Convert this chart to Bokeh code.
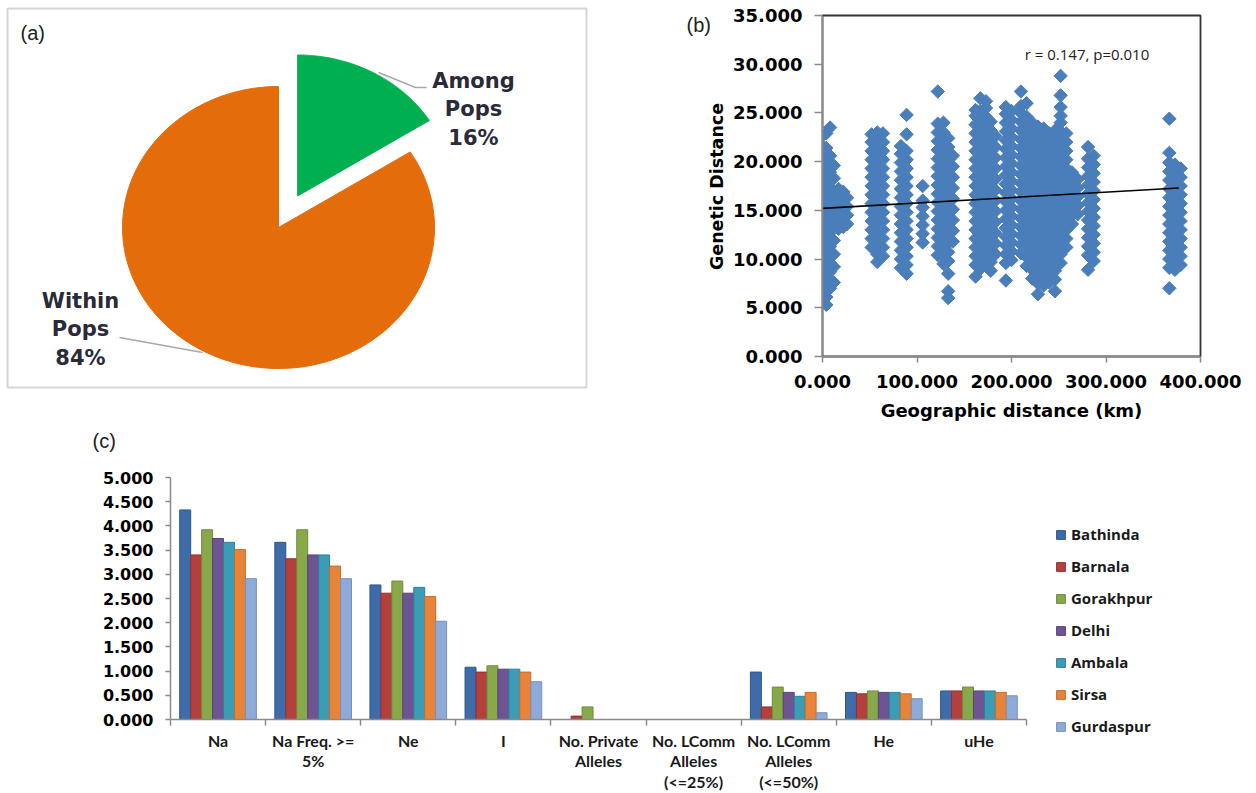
import numpy as np
from bokeh.plotting import figure
from bokeh.models import (Range1d, Legend, LegendItem, FixedTicker,
                          NumeralTickFormatter, ColumnDataSource)
from bokeh.layouts import column, row
from bokeh.embed import file_html
from bokeh.resources import INLINE
from bokeh.core.properties import value

# ---------------- data ----------------
# (a) AMOVA partition of variation
amova_labels = ["Among Pops", "Within Pops"]
amova_pct = [16, 84]
amova_colors = ["#00b050", "#e46c0a"]
amova_explode = [0.255, 0.0]

# (b) Mantel test: geographic distance (km) of population pairs and the
# pairwise genetic distances at each distance
pair_km = [0, 4, 8, 12, 17, 22, 26,
           52, 58, 64,
           83, 89,
           106,
           122, 128, 133, 138,
           162, 167, 173, 178, 183,
           194, 200,
           210, 216, 222, 228, 234, 240, 246, 252, 258, 264, 270,
           281, 287,
           367, 373, 379]
pair_gd = [
    [5.6, 6.3, 7.2, 8.0, 8.9, 9.7, 10.6, 11.4, 12.3, 13.1, 14.0, 14.8, 15.7, 16.5, 17.4, 18.2, 19.1, 19.9, 20.8, 21.6, 22.7],
    [5.3, 6.1, 6.9, 7.8, 8.6, 9.5, 10.3, 11.2, 12.0, 12.9, 13.7, 14.6, 15.4, 16.3, 17.1, 18.0, 18.8, 19.7, 20.5, 21.4, 22.9],
    [7.0, 7.9, 8.7, 9.6, 10.4, 11.3, 12.1, 13.0, 13.8, 14.7, 15.5, 16.4, 17.2, 18.1, 18.9, 19.8, 20.6, 23.5],
    [7.6, 9.2, 10.5, 11.9, 13.1, 14.4, 15.8, 17.0, 18.3, 19.6],
    [13.1, 14.0, 14.9, 15.8, 16.7, 17.2],
    [13.3, 14.2, 15.1, 16.0, 16.9],
    [13.6, 14.5, 15.4, 16.3],
    [11.2, 12.1, 13.0, 13.9, 14.8, 15.7, 16.6, 17.5, 18.4, 19.3, 20.2, 21.1, 22.0, 22.8],
    [9.7, 10.5, 11.4, 12.3, 13.2, 14.1, 15.0, 15.9, 16.8, 17.7, 18.6, 19.5, 20.4, 21.3, 22.2, 23.0],
    [10.3, 11.2, 12.1, 13.0, 13.9, 14.8, 15.7, 16.6, 17.5, 18.4, 19.3, 20.2, 21.1, 22.0, 22.9],
    [9.1, 10.0, 10.9, 11.8, 12.7, 13.6, 14.5, 15.4, 16.3, 17.2, 18.1, 19.0, 19.9, 20.8, 21.6],
    [8.5, 9.4, 10.3, 11.2, 12.1, 13.0, 13.9, 14.8, 15.7, 16.6, 17.5, 18.4, 19.3, 20.2, 21.1, 22.8, 24.8],
    [11.7, 12.6, 13.5, 14.4, 15.3, 16.0, 17.5],
    [10.4, 11.3, 12.2, 13.1, 14.0, 14.9, 15.8, 16.7, 17.6, 18.5, 19.4, 20.3, 21.2, 22.1, 23.0, 23.9, 27.2],
    [9.5, 10.4, 11.3, 12.2, 13.1, 14.0, 14.9, 15.8, 16.7, 17.6, 18.5, 19.4, 20.3, 21.2, 22.1, 23.0, 24.0],
    [6.0, 6.7, 8.5, 9.8, 10.7, 11.6, 12.5, 13.4, 14.3, 15.2, 16.1, 17.0, 17.9, 18.8, 19.7, 20.6, 21.5, 22.4],
    [11.8, 12.9, 14.0, 15.1, 16.2, 17.3, 18.4, 19.5, 20.6],
    [8.2, 9.4, 10.3, 11.2, 12.1, 13.0, 13.9, 14.8, 15.7, 16.6, 17.5, 18.4, 19.3, 20.2, 21.1, 22.0, 22.9, 23.8, 24.7, 25.3],
    [9.0, 9.9, 10.8, 11.7, 12.6, 13.5, 14.4, 15.3, 16.2, 17.1, 18.0, 18.9, 19.8, 20.7, 21.6, 22.5, 23.4, 24.3, 25.2, 26.5],
    [9.3, 10.2, 11.1, 12.0, 12.9, 13.8, 14.7, 15.6, 16.5, 17.4, 18.3, 19.2, 20.1, 21.0, 21.9, 22.8, 23.7, 24.6, 25.5, 26.2],
    [8.8, 9.7, 10.6, 11.5, 12.4, 13.3, 14.2, 15.1, 16.0, 16.9, 17.8, 18.7, 19.6, 20.5, 21.4, 22.3, 23.2, 24.1],
    [10.5, 11.6, 12.7, 13.8, 14.9, 16.0, 17.1, 18.2, 19.3, 20.4, 21.5, 22.6],
    [7.8, 9.6, 10.5, 11.4, 12.3, 13.2, 14.1, 15.0, 15.9, 16.8, 17.7, 18.6, 19.5, 20.4, 21.3, 22.2, 23.1, 24.0, 24.9, 25.6],
    [9.9, 10.8, 11.7, 12.6, 13.5, 14.4, 15.3, 16.2, 17.1, 18.0, 18.9, 19.8, 20.7, 21.6, 22.5, 23.4, 24.3, 25.2],
    [10.6, 11.5, 12.4, 13.3, 14.2, 15.1, 16.0, 16.9, 17.8, 18.7, 19.6, 20.5, 21.4, 22.3, 23.2, 24.1, 25.0, 25.7, 27.2],
    [9.3, 10.2, 11.1, 12.0, 12.9, 13.8, 14.7, 15.6, 16.5, 17.4, 18.3, 19.2, 20.1, 21.0, 21.9, 22.8, 23.7, 24.6, 26.0],
    [8.0, 8.9, 9.8, 10.7, 11.6, 12.5, 13.4, 14.3, 15.2, 16.1, 17.0, 17.9, 18.8, 19.7, 20.6, 21.5, 22.4, 23.3, 24.0],
    [6.4, 7.5, 8.4, 9.3, 10.2, 11.1, 12.0, 12.9, 13.8, 14.7, 15.6, 16.5, 17.4, 18.3, 19.2, 20.1, 21.0, 21.9, 22.8, 23.6],
    [7.3, 8.3, 9.2, 10.1, 11.0, 11.9, 12.8, 13.7, 14.6, 15.5, 16.4, 17.3, 18.2, 19.1, 20.0, 20.9, 21.8, 22.7, 23.4],
    [7.6, 8.6, 9.5, 10.4, 11.3, 12.2, 13.1, 14.0, 14.9, 15.8, 16.7, 17.6, 18.5, 19.4, 20.3, 21.2, 22.1, 22.9],
    [6.7, 7.9, 8.8, 9.7, 10.6, 11.5, 12.4, 13.3, 14.2, 15.1, 16.0, 16.9, 17.8, 18.7, 19.6, 20.5, 21.4, 22.3, 23.2],
    [9.6, 10.5, 11.4, 12.3, 13.2, 14.1, 15.0, 15.9, 16.8, 17.7, 18.6, 19.5, 20.4, 21.3, 22.2, 23.1, 24.0, 24.7, 25.6, 26.8, 28.8],
    [11.2, 12.1, 13.0, 13.9, 14.8, 15.7, 16.6, 17.5, 18.4, 19.3, 20.2, 21.1, 22.0, 22.9],
    [13.6, 14.5, 15.4, 16.3, 17.2, 18.1, 18.9],
    [14.6, 15.5, 16.4, 17.3, 18.2],
    [8.9, 10.4, 11.3, 12.2, 13.1, 14.0, 14.9, 15.8, 16.7, 17.6, 18.5, 19.4, 20.3, 21.5],
    [9.8, 10.7, 11.6, 12.5, 13.4, 14.3, 15.2, 16.1, 17.0, 17.9, 18.8, 19.7, 20.6],
    [7.0, 9.1, 10.0, 10.9, 11.8, 12.7, 13.6, 14.5, 15.4, 16.3, 17.2, 18.1, 19.0, 19.9, 20.9, 24.4],
    [8.9, 9.8, 10.7, 11.6, 12.5, 13.4, 14.3, 15.2, 16.1, 17.0, 17.9, 18.8, 19.7],
    [9.4, 10.3, 11.2, 12.1, 13.0, 13.9, 14.8, 15.7, 16.6, 17.5, 18.4, 19.3],
]
fit_km = [0, 377]
fit_gd = [15.2, 17.3]
mantel_text = "r = 0.147, p=0.010"
b_xlabel = "Geographic distance (km)"
b_ylabel = "Genetic Distance"

# (c) genetic diversity statistics per population
stat_labels = ["Na", "Na Freq. >=\n5%", "Ne", "I", "No. Private\nAlleles",
               "No. LComm\nAlleles\n(<=25%)", "No. LComm\nAlleles\n(<=50%)", "He", "uHe"]
pops = ["Bathinda", "Barnala", "Gorakhpur", "Delhi", "Ambala", "Sirsa", "Gurdaspur"]
pop_colors = ["#3d6ca8", "#b4403d", "#88a94a", "#6f5494", "#3b9cb6", "#e8843a", "#8eaad8"]
pop_edges = ["#2c5590", "#952f2d", "#6f8c37", "#5a417c", "#2a8199", "#c96c27", "#7590be"]
Bathinda = [4.33, 3.66, 2.78, 1.08, 0.00, 0.00, 0.98, 0.56, 0.59]
Barnala = [3.40, 3.32, 2.61, 0.98, 0.07, 0.00, 0.26, 0.53, 0.59]
Gorakhpur = [3.92, 3.92, 2.86, 1.11, 0.26, 0.00, 0.67, 0.59, 0.67]
Delhi = [3.74, 3.40, 2.61, 1.04, 0.00, 0.00, 0.56, 0.56, 0.59]
Ambala = [3.66, 3.40, 2.73, 1.04, 0.00, 0.00, 0.48, 0.56, 0.59]
Sirsa = [3.51, 3.17, 2.54, 0.98, 0.00, 0.00, 0.56, 0.53, 0.56]
Gurdaspur = [2.91, 2.91, 2.03, 0.78, 0.00, 0.00, 0.14, 0.43, 0.49]
pop_values = [Bathinda, Barnala, Gorakhpur, Delhi, Ambala, Sirsa, Gurdaspur]

PANEL_FONT = "Liberation Sans"


def blank(width, height, x0, x1, y0, y1):
    f = figure(width=width, height=height, x_range=Range1d(x0, x1), y_range=Range1d(y1, y0),
               x_axis_location=None, y_axis_location=None, toolbar_location=None,
               output_backend="svg", min_border=0)
    f.grid.visible = False
    f.outline_line_color = None
    return f


# ---------------- panel (a) ----------------
pa = figure(width=680, height=430, x_range=Range1d(7, 586), y_range=Range1d(387, 8),
            x_axis_location=None, y_axis_location=None, toolbar_location=None,
            output_backend="svg", min_border_left=7, min_border_right=94,
            min_border_top=8, min_border_bottom=43)
pa.grid.visible = False
pa.outline_line_color = "#d6d6d6"
pa.outline_line_width = 2

cx, cy, rx, ry = 278, 227, 156, 141
ang = 90.0
for pct, col, ex in zip(amova_pct, amova_colors, amova_explode):
    a0, a1 = ang, ang - pct / 100.0 * 360.0
    mid = np.radians((a0 + a1) / 2)
    ox, oy = ex * rx * np.cos(mid), -ex * ry * np.sin(mid)
    t = np.radians(np.linspace(a0, a1, 160))
    xs = [cx + ox] + list(cx + ox + rx * np.cos(t))
    ys = [cy + oy] + list(cy + oy - ry * np.sin(t))
    pa.patch(xs, ys, fill_color=col, line_color=col, line_width=1)
    ang = a1

pa.line([378, 415, 426], [72, 87, 87], line_color="#a8a8a8", line_width=1.5)
pa.line([119, 202], [337, 352], line_color="#a8a8a8", line_width=1.5)

label_anchor = [(473, 80), (80, 300)]
for lab, pct, (lx, ly) in zip(amova_labels, amova_pct, label_anchor):
    lines = lab.split(" ") + [f"{pct}%"]
    for k, s in enumerate(lines):
        pa.text(x=[lx], y=[ly + 28.5 * k], text=[s], text_align="center",
                text_baseline="middle", text_font=value("DejaVu Sans"),
                text_font_style="bold", text_font_size="21px", text_color="#2a2a38")
pa.text(x=[20], y=[32], text=["(a)"], text_align="left", text_baseline="middle",
        text_font=value(PANEL_FONT), text_font_size="20px", text_color="#222222")

# ---------------- panel (b): side strip with panel tag and y title ----------------
lb = blank(46, 430, 680, 726, 0, 430)
lb.text(x=[686], y=[24], text=["(b)"], text_align="left", text_baseline="middle",
        text_font=value(PANEL_FONT), text_font_size="20px", text_color="#222222")
lb.text(x=[716], y=[186], text=[b_ylabel], angle=np.pi / 2, text_align="center",
        text_baseline="middle", text_font=value("DejaVu Sans"), text_font_style="bold",
        text_font_size="17.5px", text_color="black")

pb = figure(width=530, height=430, x_range=Range1d(0, 400), y_range=Range1d(0, 35),
            toolbar_location=None, output_backend="svg",
            min_border_left=96, min_border_right=56, min_border_top=15, min_border_bottom=74)
pb.grid.visible = False
pb.outline_line_color = "#333333"
pb.outline_line_width = 1.8

sx = [k for k, gds in zip(pair_km, pair_gd) for _ in gds]
sy = [g for gds in pair_gd for g in gds]
pb.scatter(sx, sy, marker="square", angle=np.pi / 4, size=9.5,
           fill_color="#4a7ebb", line_color="#4a7ebb")
pb.line(fit_km, fit_gd, line_color="black", line_width=1.6)
pb.text(x=[214], y=[31.0], text=[mantel_text], text_align="left", text_baseline="middle",
        text_font=value("Open Sans"), text_font_size="15px", text_color="#222222")

pb.xaxis.ticker = FixedTicker(ticks=[0, 100, 200, 300, 400])
pb.yaxis.ticker = FixedTicker(ticks=[0, 5, 10, 15, 20, 25, 30, 35])
for ax in (pb.xaxis[0], pb.yaxis[0]):
    ax.formatter = NumeralTickFormatter(format="0.000")
    ax.axis_line_color = "#8a8a8a"
    ax.axis_line_width = 1.5
    ax.major_tick_line_color = "#8a8a8a"
    ax.major_tick_line_width = 1.5
    ax.major_tick_in = 0
    ax.minor_tick_line_color = None
    ax.major_label_text_font = "DejaVu Sans"
    ax.major_label_text_font_style = "bold"
    ax.major_label_text_font_size = "18px"
    ax.major_label_text_color = "black"
    ax.axis_label_text_font = "DejaVu Sans"
    ax.axis_label_text_font_style = "bold"
    ax.axis_label_text_font_size = "18px"
    ax.axis_label_text_color = "black"
pb.xaxis.major_tick_out = 6
pb.xaxis.major_label_standoff = 12
pb.xaxis.axis_label = b_xlabel
pb.xaxis.axis_label_standoff = 9
pb.yaxis.major_tick_out = 8
pb.yaxis.major_label_standoff = 12

# ---------------- panel (c) ----------------
lc = blank(1256, 36, 0, 1256, 430, 466)
lc.text(x=[92], y=[440], text=["(c)"], text_align="left", text_baseline="middle",
        text_font=value(PANEL_FONT), text_font_size="20px", text_color="#222222")

pc = figure(width=1040, height=327, x_range=Range1d(0, 9), y_range=Range1d(0, 5),
            toolbar_location=None, output_backend="svg",
            min_border_left=170, min_border_right=14, min_border_top=11, min_border_bottom=72)
pc.grid.visible = False
pc.outline_line_color = None

# legend strip to the right of the bar chart (pixel coordinates of the page)
lg = blank(216, 327, 1040, 1256, 466, 793)

group_w = 0.806
bw = group_w / len(pops)
items = []
for j, (name, vals, fc, ec) in enumerate(zip(pops, pop_values, pop_colors, pop_edges)):
    xs = [i + 0.5 + (j - (len(pops) - 1) / 2) * bw for i in range(len(stat_labels))]
    src = ColumnDataSource(dict(x=xs, top=vals))
    pc.vbar(x="x", top="top", width=bw, bottom=0, source=src,
            fill_color=fc, line_color=ec, line_width=1)
    # hidden twin of the series in the legend strip, used only for its legend swatch
    proxy = lg.vbar(x="x", top="top", width=bw, bottom=0, source=src,
                    fill_color=fc, line_color=ec, line_width=1, visible=False)
    items.append(LegendItem(label=name, renderers=[proxy]))

legend = Legend(items=items, location=(15, 57), orientation="vertical",
                label_text_font="Open Sans", label_text_font_style="bold",
                label_text_font_size="15px", label_text_color="#1a1a1a",
                glyph_width=11, glyph_height=11, label_height=20, spacing=12,
                label_standoff=5, padding=0, margin=0,
                inactive_fill_alpha=0, inactive_fill_color="white",
                border_line_color=None, background_fill_alpha=0)
lg.add_layout(legend)

pc.xaxis.ticker = FixedTicker(ticks=[i + 0.5 for i in range(len(stat_labels))],
                              minor_ticks=list(range(len(stat_labels) + 1)))
pc.xaxis.major_label_overrides = {i + 0.5: lab for i, lab in enumerate(stat_labels)}
pc.xaxis.major_tick_line_color = None
pc.xaxis.minor_tick_line_color = "#8a8a8a"
pc.xaxis.minor_tick_line_width = 1.5
pc.xaxis.minor_tick_out = 6
pc.xaxis.minor_tick_in = 0
pc.xaxis.axis_line_color = "#8a8a8a"
pc.xaxis.axis_line_width = 1.5
pc.xaxis.major_label_standoff = 5
pc.xaxis.major_label_text_font = "Lato"
pc.xaxis.major_label_text_font_style = "bold"
pc.xaxis.major_label_text_font_size = "16px"
pc.xaxis.major_label_text_color = "#1a1a1a"
pc.xaxis.major_label_text_line_height = 1.08

pc.yaxis.ticker = FixedTicker(ticks=[k * 0.5 for k in range(11)])
pc.yaxis.formatter = NumeralTickFormatter(format="0.000")
pc.yaxis.axis_line_color = "#8a8a8a"
pc.yaxis.axis_line_width = 1.5
pc.yaxis.major_tick_line_color = "#8a8a8a"
pc.yaxis.major_tick_line_width = 1.5
pc.yaxis.major_tick_out = 5
pc.yaxis.major_tick_in = 0
pc.yaxis.minor_tick_line_color = None
pc.yaxis.major_label_standoff = 12
pc.yaxis.major_label_text_font = "DejaVu Sans"
pc.yaxis.major_label_text_font_style = "bold"
pc.yaxis.major_label_text_font_size = "16px"
pc.yaxis.major_label_text_color = "black"

# each plot wrapped in its own column so that frames are not aligned across plots
top = row(column(pa), column(lb), column(pb), spacing=0)
bottom = row(column(pc), column(lg), spacing=0)
layout = column(top, column(lc), bottom, spacing=0)
open("out.html", "w").write(file_html(layout, INLINE))
